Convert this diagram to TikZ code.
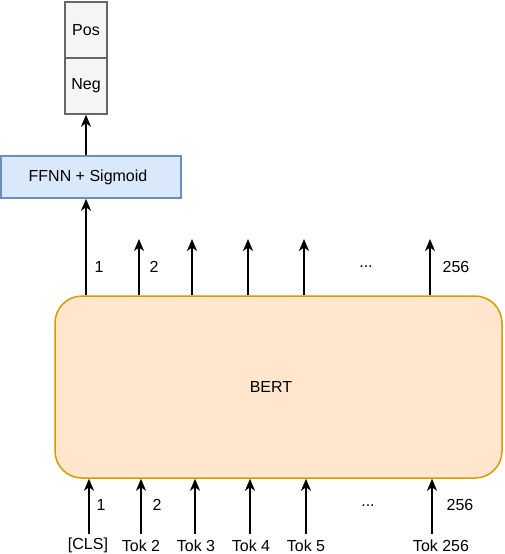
\documentclass[tikz,border=0pt]{standalone}
\usepackage{fontspec}
\setmainfont{Liberation Sans}
\usetikzlibrary{arrows.meta}
\definecolor{grayfill}{HTML}{F5F5F5}
\definecolor{graydraw}{HTML}{666666}
\definecolor{bluefill}{HTML}{DAE8FC}
\definecolor{bluedraw}{HTML}{6C8EBF}
\definecolor{orfill}{HTML}{FFE6CC}
\definecolor{ordraw}{HTML}{D79B00}
\begin{document}
\begin{tikzpicture}[x=1pt,y=-1pt,
  txt/.style={font=\fontsize{16}{19}\selectfont, inner sep=0pt},
  outbox/.style={draw=graydraw, fill=grayfill, line width=1.5pt, minimum width=42pt, minimum height=56pt, inner sep=0pt, font=\fontsize{16}{19}\selectfont},
  arr/.style={-{Stealth[length=12pt,width=10pt,inset=3.5pt]}, line width=1.5pt}]
\useasboundingbox (0,0) rectangle (504,554);
\node[outbox] (pos) at (86,30) {Pos};
\node[outbox] (neg) at (86,86) {Neg};
\node[draw=bluedraw, fill=bluefill, line width=1.5pt, minimum width=180pt, minimum height=42pt, inner sep=0pt] (ffnn) at (91,177) {};
\node[txt] (ffnnlabel) at (88,177) {FFNN + Sigmoid};
\node[draw=ordraw, fill=orfill, line width=1.5pt, rounded corners=27pt, minimum width=447pt, minimum height=182pt, inner sep=0pt] (bert) at (278.5,387) {};
\node[txt] (bertlabel) at (271,387) {BERT};
% output arrows
\draw[arr] (ffnn.north -| neg.south) -- (neg.south);
\draw[arr] (bert.north -| 86,0) -- (ffnn.south -| 86,0);
\foreach \n/\x in {o2/139,o3/192,o4/248,o5/304,o6/430}{
  \coordinate (\n) at (\x,239);
  \draw[arr] (\n |- bert.north) -- (\n);
}
\node[txt] (l1) at (99,267) {1};
\node[txt] (l2) at (154,267) {2};
\node[txt] (ld) at (366,267) {...};
\node[txt] (l256) at (456,267) {256};
% input arrows
\foreach \n/\x in {i1/89,i2/141,i3/195,i4/250,i5/306,i6/432}{
  \coordinate (\n) at (\x,534);
  \draw[arr] (\n) -- (\n |- bert.south);
}
\node[txt] (m1) at (101,505) {1};
\node[txt] (m2) at (157,505) {2};
\node[txt] (md) at (368,506) {...};
\node[txt] (m256) at (460,505) {256};
\node[txt] (t1) at (88,545) {[CLS]};
\node[txt] (t2) at (141,545.5) {Tok 2};
\node[txt] (t3) at (196,545.5) {Tok 3};
\node[txt] (t4) at (251,545.5) {Tok 4};
\node[txt] (t5) at (306,545.5) {Tok 5};
\node[txt] (t6) at (441,545.5) {Tok 256};
\end{tikzpicture}
\end{document}
